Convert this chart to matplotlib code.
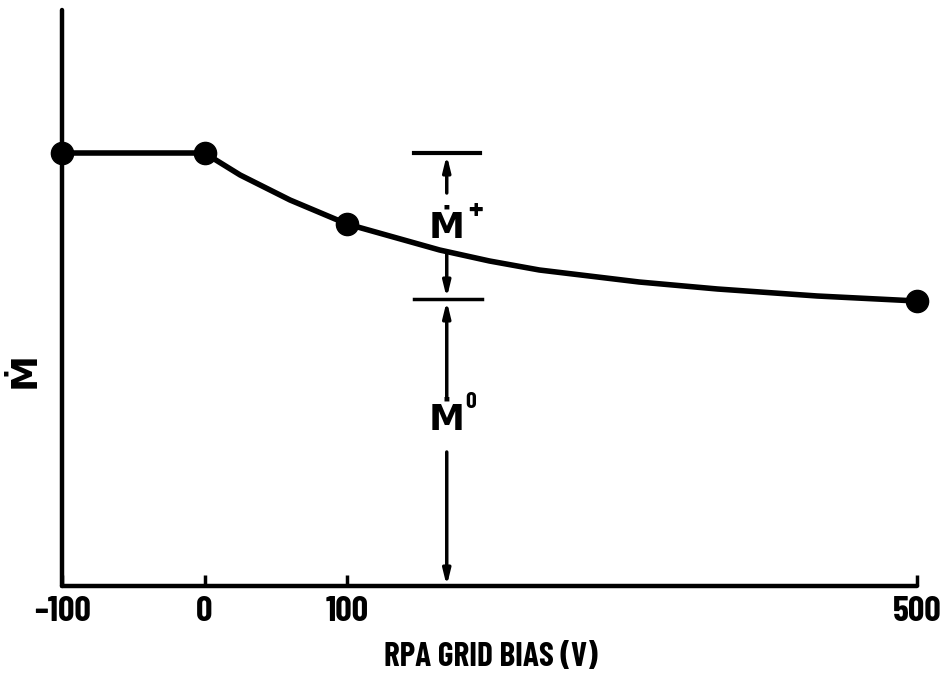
import matplotlib.pyplot as plt

plt.rcParams['font.family'] = ['Barlow Condensed', 'DejaVu Sans']
plt.rcParams['font.weight'] = 'bold'

# measured points (Mdot in arbitrary units vs RPA grid bias)
bias_pts = [-100, 0, 100, 500]
mdot_pts = [433, 433, 362, 285]

# points
bias_curve = [-100, 0, 25, 60, 100, 165, 200, 235, 305, 360, 430, 500]
mdot_curve = [433, 433, 411, 386, 362, 336, 325, 316, 304, 297, 290, 285]

tick_vals = [-100, 0, 100, 500]
tick_labels = ['\u2013100', '0', '100', '500']

# where the Mdot+ / Mdot0 brackets sit
bracket_x = 170
bracket_half = 23

fig = plt.figure(figsize=(9.41, 6.74), dpi=100)
ax = fig.add_axes([62/941, 88/674, 855/941, 576/674])

ax.plot(bias_curve, mdot_curve, color='black', lw=4, solid_capstyle='round',
        solid_joinstyle='round', clip_on=False)
ax.plot(bias_pts, mdot_pts, 'o', color='black', ms=16, clip_on=False)

ax.set_xlim(-100, 500)
ax.set_ylim(0, 576)
for s in ['top', 'right']:
    ax.spines[s].set_visible(False)
for s in ['left', 'bottom']:
    ax.spines[s].set_linewidth(3.2)
    ax.spines[s].set_capstyle('round')
ax.set_yticks([])
ax.set_xticks(tick_vals)
ax.set_xticklabels(tick_labels, fontsize=26)
ax.tick_params(axis='x', direction='in', length=8, width=2.5, pad=7)

top = mdot_pts[0]
mid = mdot_pts[-1]
# bracket bars
ax.plot([bracket_x - bracket_half, bracket_x + bracket_half], [top, top], color='black', lw=3)
ax.plot([bracket_x - bracket_half, bracket_x + bracket_half + 2], [mid + 2, mid + 2], color='black', lw=2.5)

arrow = dict(arrowstyle='-|>,head_length=0.9,head_width=0.22', color='black', lw=2.5,
             shrinkA=0, shrinkB=0)
c_at = 333  # curve value at bracket_x
ax.annotate('', xy=(bracket_x, top - 2), xytext=(bracket_x, top - 40), arrowprops=arrow)
ax.annotate('', xy=(bracket_x, mid + 3), xytext=(bracket_x, c_at), arrowprops=arrow)
ax.annotate('', xy=(bracket_x, mid), xytext=(bracket_x, 189), arrowprops=arrow)
ax.annotate('', xy=(bracket_x, 0), xytext=(bracket_x, 134), arrowprops=arrow,
            annotation_clip=False)

ax.text(bracket_x, 357, '\u1e40', fontsize=26, ha='center', va='center')
ax.text(bracket_x + 20, 374, '+', fontsize=24, ha='center', va='center')
ax.text(bracket_x, 166, '\u1e40', fontsize=26, ha='center', va='center')
ax.text(bracket_x + 17, 184, '0', fontsize=17, ha='center', va='center')

fig.text(25/941, 1 - 370/674, '\u1e40', fontsize=26, rotation=90, ha='center', va='center')
fig.text(491/941, 1 - 657/674, 'RPA GRID BIAS (V)', fontsize=24, ha='center', va='center')

fig.savefig('out.png', dpi=100)
